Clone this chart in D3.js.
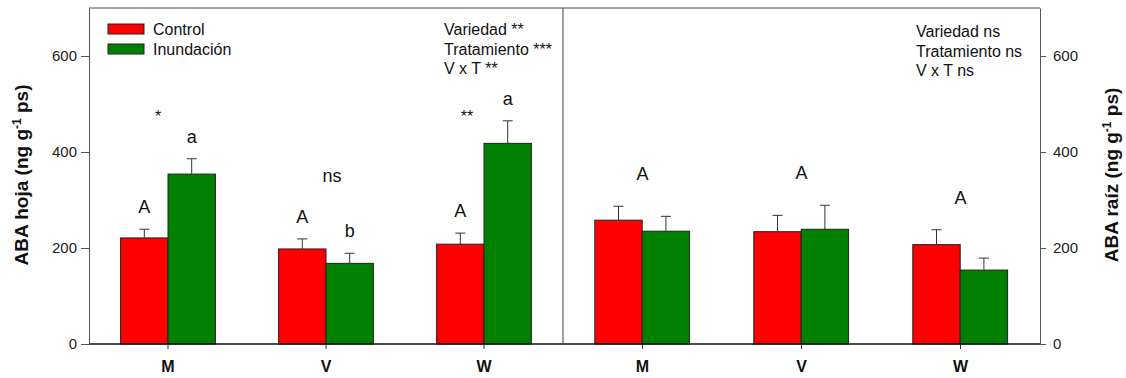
<!DOCTYPE html>
<html>
<head>
<meta charset="utf-8">
<script src="https://cdn.jsdelivr.net/npm/d3@7"></script>
<style>
  body { margin: 0; background: #fff; }
  text { font-family: Arial, "Liberation Sans", sans-serif; }
</style>
</head>
<body>
<script>
var varieties = ["M", "V", "W"];
var treatments = ["Control", "Inundación"];

// ABA hoja (left panel)
var hojaControl = [221, 198, 208];
var hojaControlErr = [18, 21, 23];
var hojaInund = [354, 168, 418];
var hojaInundErr = [32, 21, 47];
var hojaLettersControl = ["A", "A", "A"];
var hojaLettersInund = ["a", "b", "a"];
var hojaSig = ["*", "ns", "**"];
var hojaStats = ["Variedad **", "Tratamiento ***", "V x T **"];

// ABA raiz (right panel)
var raizControl = [258, 234, 207];
var raizControlErr = [29, 34, 31];
var raizInund = [235, 239, 154];
var raizInundErr = [31, 50, 25];
var raizLetters = ["A", "A", "A"];
var raizStats = ["Variedad ns", "Tratamiento ns", "V x T ns"];

var yTicks = [0, 200, 400, 600];
var colors = {"Control": "#ff0000", "Inundación": "#008000"};

var W = 1126, H = 378;
var pLeft = 89, pMid = 563, pRight = 1040, pTop = 8, pBottom = 344;

var svg = d3.select("body").append("svg")
    .attr("width", W)
    .attr("height", H);

var y = d3.scaleLinear().domain([0, 700]).range([pBottom, pTop]);

var xL = d3.scaleBand().domain(varieties).range([pLeft, pMid]).paddingInner(0.4).paddingOuter(0.2);
var xR = d3.scaleBand().domain(varieties).range([pMid, pRight]).paddingInner(0.4).paddingOuter(0.2);
var xs = d3.scaleBand().domain(treatments).range([0, xL.bandwidth()]);

function panel(x, ctrl, ctrlErr, inund, inundErr) {
  var rows = [];
  varieties.forEach(function(v, i) {
    rows.push({v: v, t: "Control", val: ctrl[i], err: ctrlErr[i]});
    rows.push({v: v, t: "Inundación", val: inund[i], err: inundErr[i]});
  });

  var g = svg.append("g");
  g.selectAll("rect")
    .data(rows)
    .enter().append("rect")
    .attr("x", function(d) { return x(d.v) + xs(d.t); })
    .attr("y", function(d) { return y(d.val); })
    .attr("width", xs.bandwidth())
    .attr("height", function(d) { return y(0) - y(d.val); })
    .attr("fill", function(d) { return colors[d.t]; })
    .attr("stroke", "#222")
    .attr("stroke-width", 1);

  var eb = g.selectAll(".err")
    .data(rows)
    .enter().append("g")
    .attr("class", "err")
    .attr("stroke", "#333")
    .attr("stroke-width", 1);
  eb.append("line")
    .attr("x1", function(d) { return x(d.v) + xs(d.t) + xs.bandwidth() / 2; })
    .attr("x2", function(d) { return x(d.v) + xs(d.t) + xs.bandwidth() / 2; })
    .attr("y1", function(d) { return y(d.val); })
    .attr("y2", function(d) { return y(d.val + d.err); });
  eb.append("line")
    .attr("x1", function(d) { return x(d.v) + xs(d.t) + xs.bandwidth() / 2 - 5; })
    .attr("x2", function(d) { return x(d.v) + xs(d.t) + xs.bandwidth() / 2 + 5; })
    .attr("y1", function(d) { return y(d.val + d.err); })
    .attr("y2", function(d) { return y(d.val + d.err); });

  // category axis
  var ax = svg.append("g")
    .attr("transform", "translate(0," + pBottom + ")")
    .call(d3.axisBottom(x).tickSize(5).tickPadding(12));
  ax.select(".domain").remove();
  ax.selectAll("line").attr("stroke", "#333");
  ax.selectAll("text")
    .attr("font-size", 16)
    .attr("font-weight", "bold")
    .attr("fill", "#111")
    .style("font-family", "Arial, 'Liberation Sans', sans-serif");
}

panel(xL, hojaControl, hojaControlErr, hojaInund, hojaInundErr);
panel(xR, raizControl, raizControlErr, raizInund, raizInundErr);

// frame lines
svg.append("line").attr("x1", pLeft).attr("x2", pRight).attr("y1", pTop).attr("y2", pTop)
  .attr("stroke", "#444");
svg.append("line").attr("x1", pLeft).attr("x2", pRight).attr("y1", pBottom).attr("y2", pBottom)
  .attr("stroke", "#111").attr("stroke-width", 1.3);
svg.append("line").attr("x1", pMid).attr("x2", pMid).attr("y1", pTop).attr("y2", pBottom)
  .attr("stroke", "#444");

// y axes
var yl = svg.append("g")
  .attr("transform", "translate(" + pLeft + ",0)")
  .call(d3.axisLeft(y).tickValues(yTicks).tickSize(8).tickPadding(4).tickSizeOuter(0));
var yr = svg.append("g")
  .attr("transform", "translate(" + pRight + ",0)")
  .call(d3.axisRight(y).tickValues(yTicks).tickSize(6).tickPadding(7).tickSizeOuter(0));
[yl, yr].forEach(function(a) {
  a.select(".domain").attr("stroke", "#555");
  a.selectAll("line").attr("stroke", "#555");
  a.selectAll("text")
    .attr("font-size", 15)
    .attr("fill", "#222")
    .style("font-family", "Arial, 'Liberation Sans', sans-serif");
});

// axis titles
function yTitle(x, label) {
  var t = svg.append("text")
    .attr("transform", "translate(" + x + ",175) rotate(-90)")
    .attr("text-anchor", "middle")
    .attr("font-size", 19)
    .attr("font-weight", "bold")
    .attr("fill", "#111");
  t.append("tspan").text(label + " (ng g");
  t.append("tspan").attr("baseline-shift", "super").attr("font-size", 12).text("-1");
  t.append("tspan").text(" ps)");
}
yTitle(28, "ABA hoja");
yTitle(1118, "ABA raíz");

// legend
var leg = svg.append("g").attr("transform", "translate(108,24)");
treatments.forEach(function(t, i) {
  leg.append("rect")
    .attr("x", 0).attr("y", i * 20)
    .attr("width", 36).attr("height", 10)
    .attr("fill", colors[t])
    .attr("stroke", "#222");
  leg.append("text")
    .attr("x", 45).attr("y", i * 20 + 10.5)
    .attr("font-size", 16)
    .attr("fill", "#111")
    .text(t);
});

// statistics text
function stats(x, y0, lines) {
  lines.forEach(function(s, i) {
    svg.append("text")
      .attr("x", x).attr("y", y0 + i * 19.7)
      .attr("font-size", 16)
      .attr("fill", "#111")
      .text(s);
  });
}
stats(444, 35, hojaStats);
stats(916, 37, raizStats);

// letters above bars
function letter(xp, yp, s, size) {
  svg.append("text")
    .attr("x", xp).attr("y", yp)
    .attr("text-anchor", "middle")
    .attr("font-size", size)
    .attr("fill", "#111")
    .text(s);
}
varieties.forEach(function(v, i) {
  var cx = xL(v) + xs("Control") + xs.bandwidth() / 2;
  var ix = xL(v) + xs("Inundación") + xs.bandwidth() / 2;
  letter(cx, y(hojaControl[i] + hojaControlErr[i]) - 16, hojaLettersControl[i], 18);
  letter(ix, y(hojaInund[i] + hojaInundErr[i]) - 16, hojaLettersInund[i], 18);
  var gx = xR(v) + xR.bandwidth() / 2;
  var hi = Math.max(raizControl[i] + raizControlErr[i], raizInund[i] + raizInundErr[i]);
  letter(gx, y(hi) - 26, raizLetters[i], 18);
});

// significance marks between treatments
var sigPos = [{dx: -10, v: 462}, {dx: 6, v: 338}, {dx: -17, v: 462}];
varieties.forEach(function(v, i) {
  var gx = xL(v) + xL.bandwidth() / 2 + sigPos[i].dx;
  var s = hojaSig[i];
  letter(gx, y(sigPos[i].v), s, s === "ns" ? 18 : 16);
});
</script>
</body>
</html>
